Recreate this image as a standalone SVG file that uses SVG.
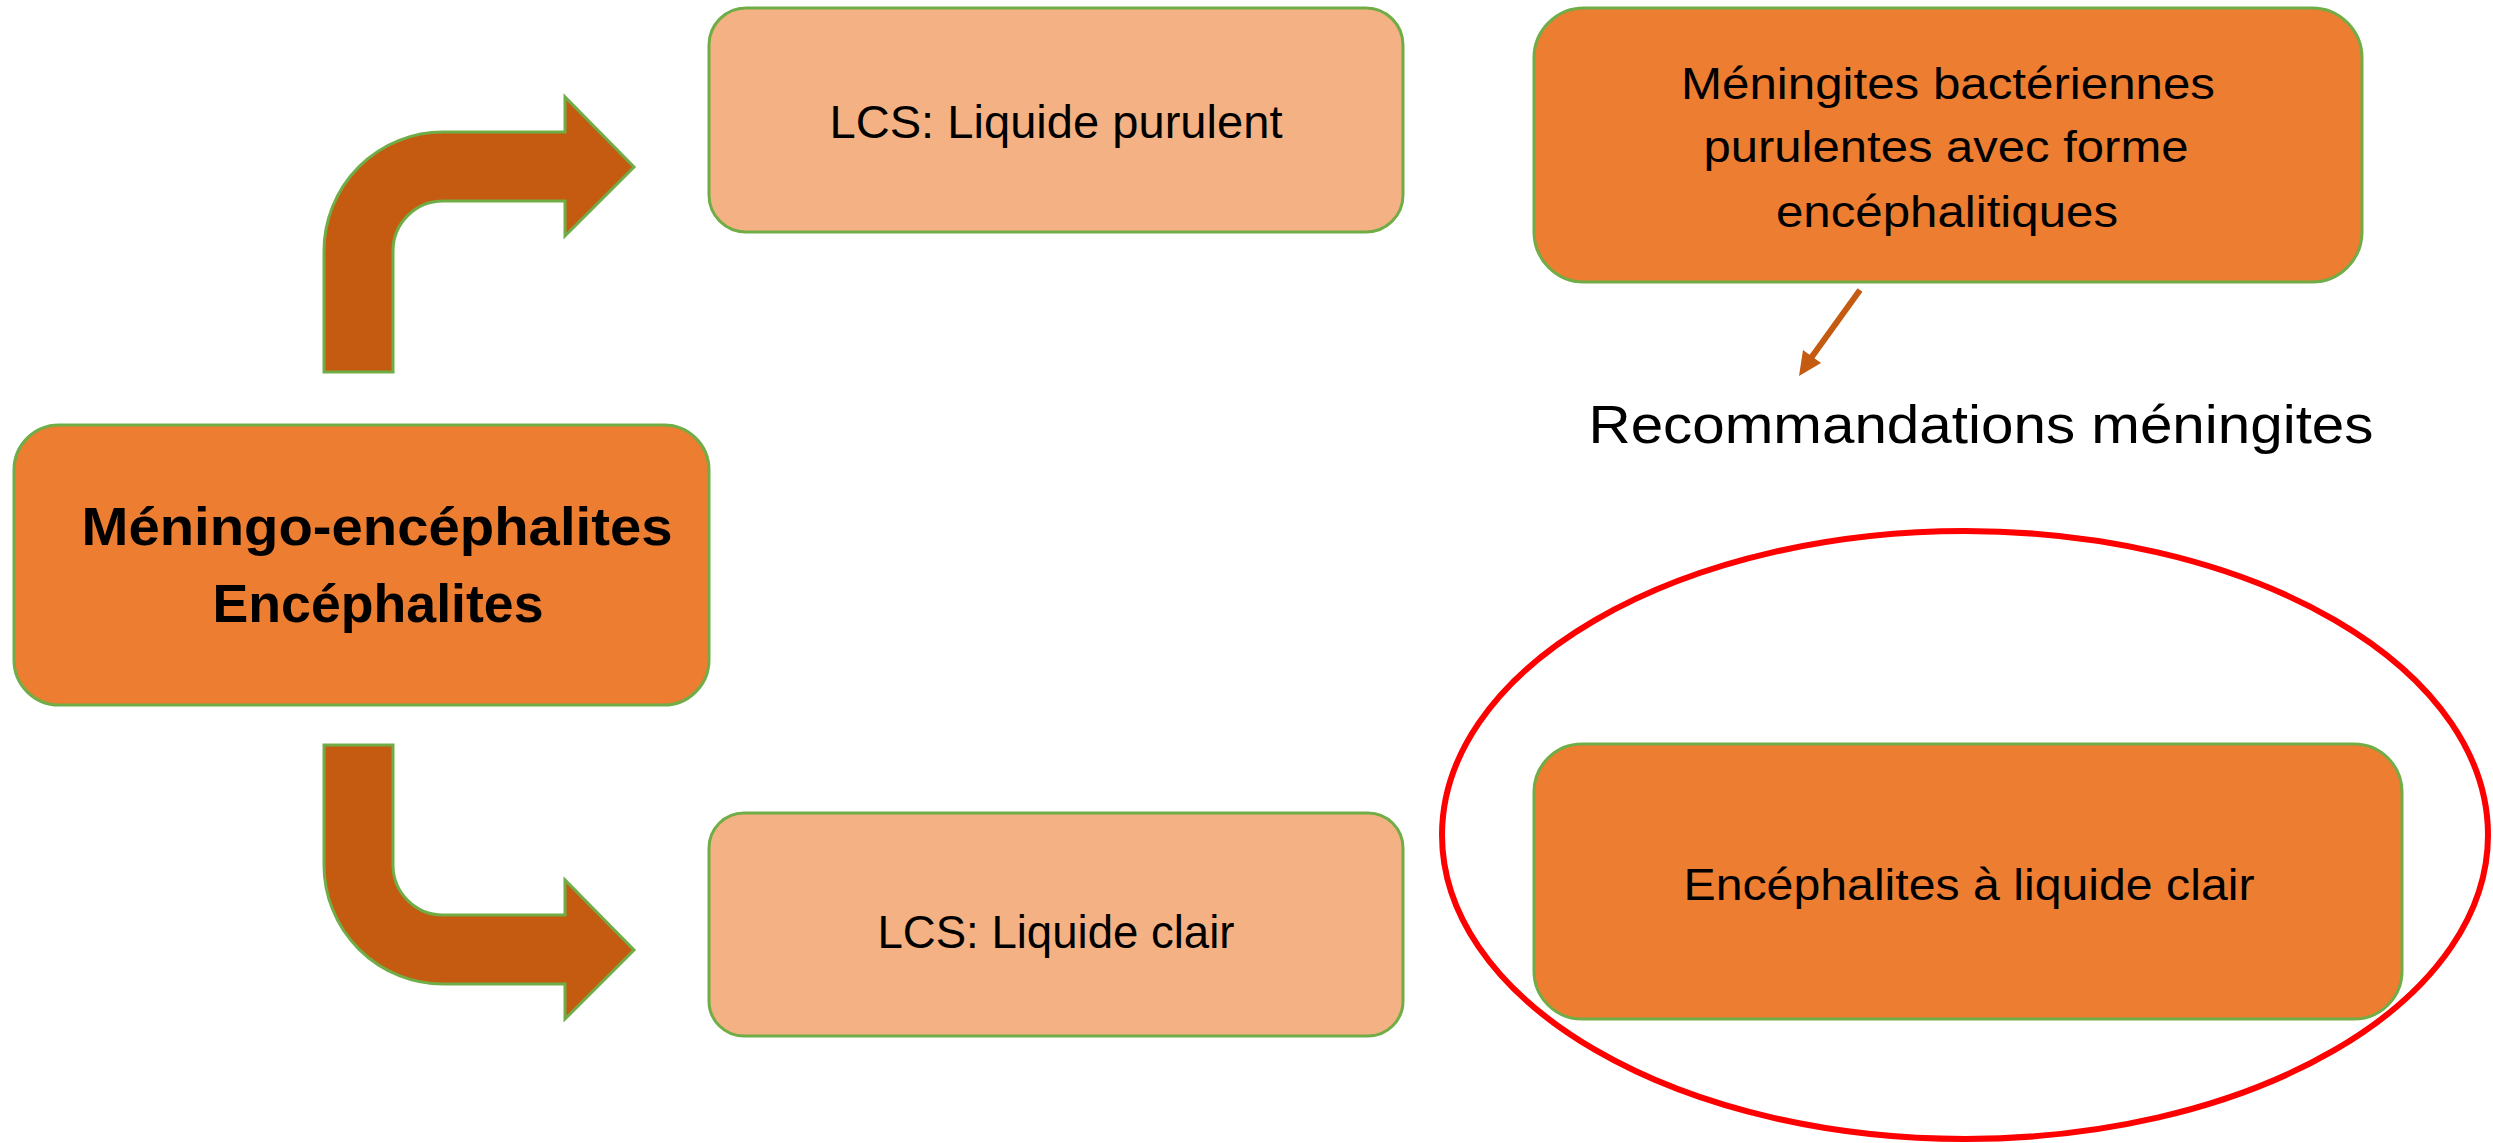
<svg xmlns="http://www.w3.org/2000/svg" width="2493" height="1143" viewBox="0 0 2493 1143">
<style>
.box{fill:#ed7d31;stroke:#70ad47;stroke-width:3}
.light{fill:#f4b183;stroke:#70ad47;stroke-width:3}
.bent{fill:#c55a11;stroke:#70ad47;stroke-width:3;stroke-linejoin:miter}
.t{font-family:"Liberation Sans",Arial,sans-serif;fill:#000;text-anchor:middle}
.b{font-weight:bold}
</style>
<rect width="2493" height="1143" fill="#ffffff"/>
<g id="connectors">
<path class="bent" d="M324,372 L324,251 A119,119 0 0 1 443,132 L565,132 L565,97 L634,167 L565,236 L565,201 L443,201 A50,50 0 0 0 393,251 L393,372 Z"/>
<path class="bent" d="M324,745 L324,865 A119,119 0 0 0 443,984 L565,984 L565,1019 L634,950 L565,880 L565,915 L443,915 A50,50 0 0 1 393,865 L393,745 Z"/>
<line x1="1860" y1="290" x2="1811" y2="358" stroke="#c55a11" stroke-width="6"/>
<polygon points="1799,376 1803,350 1821,363" fill="#c55a11"/>
</g>
<g id="node-main">
<rect class="box" x="14" y="425" width="695" height="280" rx="45" ry="45"/>
<text class="t b" x="377" y="545" font-size="54" textLength="591" lengthAdjust="spacingAndGlyphs">Méningo-encéphalites</text>
<text class="t b" x="378" y="622" font-size="54" textLength="331" lengthAdjust="spacingAndGlyphs">Encéphalites</text>
</g>
<g id="node-lcs-purulent">
<rect class="light" x="709" y="8" width="694" height="224" rx="37" ry="37"/>
<text class="t" x="1056" y="138" font-size="46" textLength="453" lengthAdjust="spacingAndGlyphs">LCS: Liquide purulent</text>
</g>
<g id="node-lcs-clair">
<rect class="light" x="709" y="813" width="694" height="223" rx="35" ry="35"/>
<text class="t" x="1056" y="948" font-size="46" textLength="357" lengthAdjust="spacingAndGlyphs">LCS: Liquide clair</text>
</g>
<g id="node-meningites">
<rect class="box" x="1534" y="8" width="828" height="274" rx="50" ry="50"/>
<text class="t" x="1948" y="99" font-size="45" textLength="534" lengthAdjust="spacingAndGlyphs">Méningites bactériennes</text>
<text class="t" x="1946" y="162" font-size="45" textLength="485" lengthAdjust="spacingAndGlyphs">purulentes avec forme</text>
<text class="t" x="1947" y="227" font-size="45" textLength="342" lengthAdjust="spacingAndGlyphs">encéphalitiques</text>
</g>
<g id="node-recommandations">
<text class="t" x="1981" y="443" font-size="53" textLength="785" lengthAdjust="spacingAndGlyphs">Recommandations méningites</text>
</g>
<g id="node-encephalites-clair">
<rect class="box" x="1534" y="744" width="868" height="275" rx="48" ry="48"/>
<text class="t" x="1969" y="900" font-size="45" textLength="571" lengthAdjust="spacingAndGlyphs">Encéphalites à liquide clair</text>
</g>
<g id="highlight">
<ellipse cx="1965" cy="835" rx="523" ry="304" fill="none" stroke="#ff0000" stroke-width="6"/>
</g>
</svg>
